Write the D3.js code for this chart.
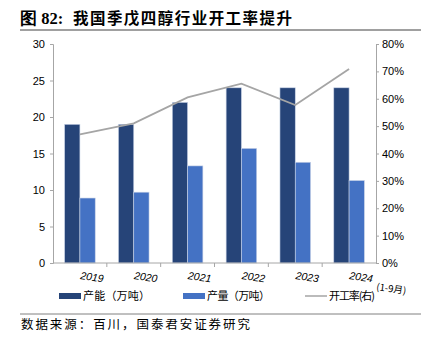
<!DOCTYPE html>
<html><head><meta charset="utf-8">
<script src="https://cdn.jsdelivr.net/npm/d3@7"></script>
<style>
body{margin:0;background:#fff;}
svg{display:block;}
</style></head>
<body>
<svg id="c" width="431" height="345"></svg>
<script>
const years = ["2019","2020","2021","2022","2023","2024"];
const yearNote = "(1-9月)";
const capacity = [19, 19, 22, 24, 24, 24];
const production = [8.9, 9.7, 13.3, 15.7, 13.8, 11.3];
const utilization = [47.0, 51.0, 60.5, 65.5, 57.7, 70.9];
const leftTicks = [0,5,10,15,20,25,30];
const rightTicks = [0,10,20,30,40,50,60,70,80];
const seriesNames = ["产能（万吨）","产量（万吨）","开工率(右)"];

const svg = d3.select("#c");
const L = 53, R = 376, T = 44, B = 263;
const cjk = "'Noto Sans CJK SC', sans-serif";
const lat = "'Liberation Sans', Arial, sans-serif";

// title
svg.append("text").attr("x",20).attr("y",24).attr("font-family","'Liberation Serif', serif").attr("font-weight",700)
  .attr("font-size",16.5).attr("fill","#000").text("图 82:");
svg.append("text").attr("x",73).attr("y",24).attr("font-family",cjk).attr("font-weight",700)
  .attr("font-size",15.5).attr("fill","#000").attr("textLength",219).attr("lengthAdjust","spacing")
  .text("我国季戊四醇行业开工率提升");
svg.append("line").attr("x1",20).attr("x2",421).attr("y1",30).attr("y2",30).attr("stroke","#808080").attr("stroke-width",1.5);

const x = d3.scaleBand().domain(years).range([L,R]).paddingInner(0).paddingOuter(0);
const xs = d3.scaleBand().domain(["cap","prod"]).range([0,x.bandwidth()]).paddingInner(0).paddingOuter(0.76);
const y = d3.scaleLinear().domain([0,30]).range([B,T]);
const y2 = d3.scaleLinear().domain([0,80]).range([B,T]);

const axisColor = "#a6a6a6";
// left axis
const la = svg.append("g").attr("transform",`translate(${L},0)`)
  .call(d3.axisLeft(y).tickValues(leftTicks).tickSize(3).tickPadding(5));
la.select(".domain").attr("stroke",axisColor);
la.selectAll(".tick line").attr("stroke",axisColor);
la.selectAll("text").attr("font-family",lat).attr("font-size",11).attr("fill","#000");
// right axis
const ra = svg.append("g").attr("transform",`translate(${R},0)`)
  .call(d3.axisRight(y2).tickValues(rightTicks).tickSize(3).tickPadding(3).tickFormat(d=>d+"%"));
ra.select(".domain").attr("stroke",axisColor);
ra.selectAll(".tick line").attr("stroke",axisColor);
ra.selectAll("text").attr("font-family",lat).attr("font-size",11).attr("fill","#000");

// bars
const g = svg.append("g");
years.forEach((yr,i)=>{
  g.append("rect").attr("x",x(yr)+xs("cap")).attr("width",xs.bandwidth())
    .attr("y",y(capacity[i])).attr("height",B-y(capacity[i]))
    .attr("fill","#264478").attr("stroke","#c9d3e6").attr("stroke-width",0.6);
  g.append("rect").attr("x",x(yr)+xs("prod")).attr("width",xs.bandwidth())
    .attr("y",y(production[i])).attr("height",B-y(production[i]))
    .attr("fill","#4472C4").attr("stroke","#c9d3e6").attr("stroke-width",0.6);
});

// bottom axis
svg.append("line").attr("x1",L).attr("x2",R).attr("y1",B).attr("y2",B).attr("stroke",axisColor);
years.slice(1).forEach(yr=>{
  svg.append("line").attr("x1",x(yr)).attr("x2",x(yr)).attr("y1",B).attr("y2",B+4).attr("stroke",axisColor);
});

// line
const line = d3.line().x((d,i)=>x(years[i])+x.bandwidth()/2).y(d=>y2(d));
svg.append("path").datum(utilization).attr("d",line).attr("fill","none")
  .attr("stroke","#a5a5a5").attr("stroke-width",1.8);

// x labels
years.forEach((yr,i)=>{
  const cx = x(yr)+x.bandwidth()/2;
  svg.append("text").attr("transform",`translate(${cx},${279}) rotate(8)`)
    .attr("font-family",lat).attr("font-size",10.5).attr("font-style","italic").attr("fill","#000").text(yr);
  if(i===years.length-1){
    svg.append("text").attr("transform",`translate(${cx+27},${290}) rotate(8)`)
      .attr("font-family",cjk).attr("font-size",9.5).attr("fill","#000").text(yearNote);
  }
});

// legend
const ly = 296;
svg.append("rect").attr("x",59).attr("y",ly-3).attr("width",22).attr("height",6).attr("fill","#264478");
svg.append("text").attr("x",83).attr("y",ly+4).attr("font-family",cjk).attr("font-size",11).attr("fill","#000")
  .attr("textLength",67).attr("lengthAdjust","spacing").text(seriesNames[0]);
svg.append("rect").attr("x",183).attr("y",ly-3).attr("width",22).attr("height",6).attr("fill","#4472C4");
svg.append("text").attr("x",207).attr("y",ly+4).attr("font-family",cjk).attr("font-size",11).attr("fill","#000")
  .attr("textLength",63).attr("lengthAdjust","spacing").text(seriesNames[1]);
svg.append("line").attr("x1",305).attr("x2",327).attr("y1",ly).attr("y2",ly).attr("stroke","#a5a5a5").attr("stroke-width",1.5);
svg.append("text").attr("x",329).attr("y",ly+4).attr("font-family",cjk).attr("font-size",11).attr("fill","#000")
  .attr("textLength",46).attr("lengthAdjust","spacing").text(seriesNames[2]);

// source
svg.append("line").attr("x1",20).attr("x2",421).attr("y1",314).attr("y2",314).attr("stroke","#808080").attr("stroke-width",1);
svg.append("text").attr("x",21).attr("y",329).attr("font-family",cjk).attr("font-size",12.5).attr("fill","#000")
  .attr("textLength",229).attr("lengthAdjust","spacing").text("数据来源：百川，国泰君安证券研究");
</script>
</body></html>
